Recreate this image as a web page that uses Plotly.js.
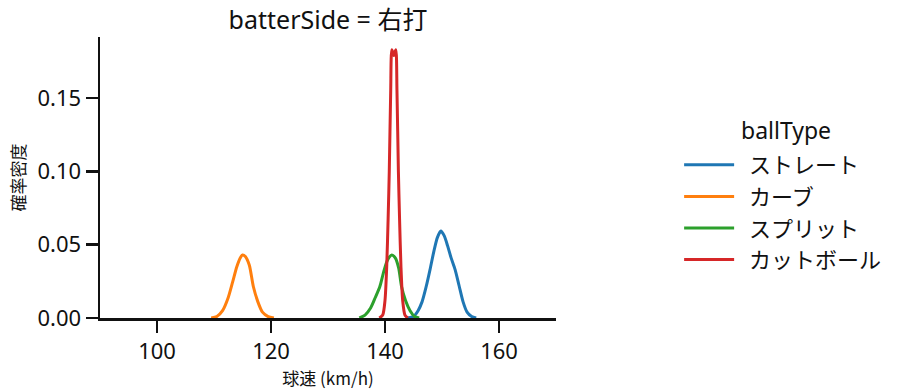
<!DOCTYPE html>
<html>
<head>
<meta charset="utf-8">
<script src="https://cdn.plot.ly/plotly-3.0.1.min.js"></script>
<style>html,body{margin:0;padding:0;background:#fff;}#chart{width:907px;height:391px;}</style>
</head>
<body>
<div id="chart"></div>
<script>
// KDE curves (x = 球速 km/h, y = 確率密度)
const ballTypes = ["ストレート", "カーブ", "スプリット", "カットボール"];
const colors = ["#1f77b4", "#ff7f0e", "#2ca02c", "#d62728"];

const straightX = [144.0, 145.0, 145.8, 146.5, 147.2, 147.9, 148.6, 149.2, 149.8, 150.4, 151.0, 151.6, 152.3, 153.0, 153.7, 154.4, 155.2, 156.0];
const straightY = [0.000, 0.001, 0.005, 0.011, 0.021, 0.033, 0.046, 0.055, 0.0593, 0.056, 0.049, 0.041, 0.033, 0.022, 0.011, 0.004, 0.001, 0.000];

const curveX = [109.5, 110.5, 111.5, 112.5, 113.3, 114.0, 114.6, 115.0, 115.5, 116.2, 116.9, 117.7, 118.5, 119.5, 120.5];
const curveY = [0.000, 0.001, 0.005, 0.014, 0.025, 0.035, 0.041, 0.043, 0.042, 0.036, 0.0215, 0.011, 0.004, 0.001, 0.000];

const splitX = [135.5, 136.5, 137.5, 138.3, 139.1, 139.8, 140.5, 141.2, 141.8, 142.4, 142.9, 143.6, 144.4, 145.2, 146.0];
const splitY = [0.000, 0.002, 0.007, 0.014, 0.0215, 0.032, 0.040, 0.043, 0.041, 0.034, 0.0215, 0.012, 0.005, 0.001, 0.000];

const cutterX = [139.0, 139.6, 140.0, 140.3, 140.55, 140.75, 141.0, 141.2, 141.55, 141.9, 142.1, 142.35, 142.55, 142.8, 143.1, 143.5, 144.0];
const cutterY = [0.000, 0.002, 0.012, 0.035, 0.068, 0.100, 0.155, 0.183, 0.179, 0.183, 0.155, 0.100, 0.068, 0.035, 0.012, 0.002, 0.000];

const seriesX = [straightX, curveX, splitX, cutterX];
const seriesY = [straightY, curveY, splitY, cutterY];

const xTicks = [100, 120, 140, 160];
const yTicks = [0, 0.05, 0.10, 0.15];

const FONT = "'Noto Sans', 'Noto Sans CJK JP', sans-serif";
const CJK = "'Noto Sans CJK JP', 'Noto Sans', sans-serif";
const INK = "#111";

const traces = ballTypes.map((name, i) => ({
  type: "scatter",
  mode: "lines",
  name: "\u00a0\u00a0" + name,
  x: seriesX[i],
  y: seriesY[i],
  line: {color: colors[i], width: 3, shape: "spline", smoothing: 0.7},
  hoverinfo: "skip"
}));

const layout = {
  width: 907,
  height: 391,
  margin: {l: 100, r: 351, t: 37, b: 73, pad: 0},
  paper_bgcolor: "#fff",
  plot_bgcolor: "#fff",
  font: {family: FONT, color: INK, size: 22},
  title: {
    text: "batterSide = 右打",
    font: {family: FONT, size: 25, color: INK},
    x: (100 + 556) / 2 / 907, xref: "container", xanchor: "center",
    y: 1 - 20 / 391, yref: "container", yanchor: "middle"
  },
  xaxis: {
    range: [90, 170],
    tickvals: xTicks,
    ticktext: xTicks.map(String),
    showgrid: false, zeroline: false,
    showline: true, linecolor: INK, linewidth: 2.5,
    ticks: "outside", ticklen: 12, tickwidth: 2.5, tickcolor: INK,
    tickfont: {family: FONT, size: 22, color: INK},
    title: {text: "球速 (km/h)", font: {family: CJK, size: 17, color: INK}, standoff: 0}
  },
  yaxis: {
    range: [0, 0.1917],
    tickvals: yTicks,
    ticktext: yTicks.map(v => v.toFixed(2)),
    showgrid: false, zeroline: false,
    showline: true, linecolor: INK, linewidth: 2.5,
    ticks: "outside", ticklen: 12, tickwidth: 2.5, tickcolor: INK,
    tickfont: {family: FONT, size: 22, color: INK},
    title: {text: "確率密度", font: {family: CJK, size: 17, color: INK}, standoff: 8}
  },
  annotations: [{
    text: "ballType",
    xref: "paper", yref: "paper",
    x: (786 - 100) / 456, y: (318 - 130) / 281,
    xanchor: "center", yanchor: "middle",
    showarrow: false,
    font: {family: FONT, size: 23, color: INK}
  }],
  showlegend: true,
  legend: {
    x: 1.27, xanchor: "left",
    y: (318 - 144) / 281, yanchor: "top",
    bgcolor: "rgba(0,0,0,0)",
    borderwidth: 0,
    font: {family: CJK, size: 22, color: INK},
    itemwidth: 50,
    tracegroupgap: 0
  }
};

Plotly.newPlot("chart", traces, layout, {displayModeBar: false, staticPlot: true});
</script>
</body>
</html>
